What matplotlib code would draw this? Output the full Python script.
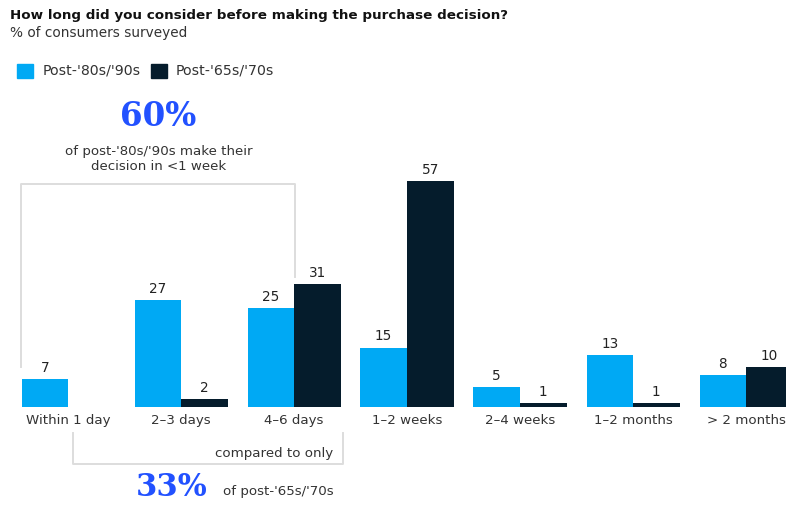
import matplotlib
matplotlib.use("Agg")
import matplotlib.pyplot as plt
from matplotlib.lines import Line2D
from matplotlib.patches import Rectangle
import numpy as np

# --- data -----------------------------------------------------------------
categories = ["Within 1 day", "2\u20133 days", "4\u20136 days", "1\u20132 weeks",
              "2\u20134 weeks", "1\u20132 months", "> 2 months"]
post_80s_90s = [7, 27, 25, 15, 5, 13, 8]
post_65s_70s = [0, 2, 31, 57, 1, 1, 10]
series_names = ["Post-'80s/'90s", "Post-'65s/'70s"]

title = "How long did you consider before making the purchase decision?"
subtitle = "% of consumers surveyed"
callout_top_value = "60%"
callout_top_text = "of post-'80s/'90s make their\ndecision in <1 week"
callout_bottom_lead = "compared to only"
callout_bottom_value = "33%"
callout_bottom_text = "of post-'65s/'70s"

# --- style ----------------------------------------------------------------
LIGHT = "#00A9F4"
DARK = "#051C2C"
ACCENT = "#2251FF"
TEXT = "#333333"
RULE = "#DDDDDD"
plt.rcParams["font.family"] = ["DejaVu Sans"]
SERIF = ["DejaVu Serif"]

W, H = 786, 505
fig = plt.figure(figsize=(W / 100, H / 100), dpi=100)


def fx(px):
    return px / W


def fy(py):
    return 1 - py / H


# axes spans the whole canvas; limits place the baseline and group spacing
ax = fig.add_axes([0, 0, 1, 1])
unit_px = 113.0           # distance between category groups
val_px = 226.0 / 57       # pixels per percentage point
base_px = 407.0
x0_px = 68.0
ax.set_xlim(-x0_px / unit_px, (W - x0_px) / unit_px)
ax.set_ylim(-(H - base_px) / val_px, base_px / val_px)
ax.axis("off")

x = np.arange(len(categories))
bw = 46.5 / unit_px
b1 = ax.bar(x - bw / 2, post_80s_90s, bw, color=LIGHT, linewidth=0)
b2 = ax.bar(x + bw / 2, post_65s_70s, bw, color=DARK, linewidth=0)

for bars, vals in ((b1, post_80s_90s), (b2, post_65s_70s)):
    for rect, v in zip(bars, vals):
        if v == 0:
            continue
        ax.annotate(f"{v}", (rect.get_x() + rect.get_width() / 2, v),
                    xytext=(0, 3), textcoords="offset points",
                    ha="center", va="bottom", fontsize=9.8, color="#222222")

for xi, lab in zip(x, categories):
    ax.annotate(lab, (xi, 0), xytext=(0, -10), textcoords="offset points",
                ha="center", va="center", fontsize=9.6, color=TEXT)

# --- header ---------------------------------------------------------------
fig.text(fx(10), fy(15), title, fontsize=9.7, fontweight="bold",
         color="#111111", va="center", ha="left")
fig.text(fx(10), fy(33), subtitle, fontsize=9.8, color=TEXT,
         va="center", ha="left")

# legend
for sx, col, name, tx in ((17, LIGHT, series_names[0], 43),
                          (151, DARK, series_names[1], 176)):
    fig.patches.append(Rectangle((fx(sx), fy(78)), fx(16), 14 / H,
                                 transform=fig.transFigure, color=col))
    fig.text(fx(tx), fy(71), name, fontsize=10.2, color=TEXT,
             va="center", ha="left")

# --- top callout ----------------------------------------------------------
fig.text(fx(158), fy(117), callout_top_value, fontsize=23.5, fontweight="bold",
         family=SERIF, color=ACCENT, ha="center", va="center")
fig.text(fx(159), fy(159), callout_top_text, fontsize=9.6, color=TEXT,
         ha="center", va="center", linespacing=1.2)


def bracket(points):
    xs = [fx(p[0]) for p in points]
    ys = [fy(p[1]) for p in points]
    fig.add_artist(Line2D(xs, ys, color=RULE, linewidth=1.4,
                          transform=fig.transFigure))


bracket([(21, 367), (21, 184), (295, 184), (295, 277)])

# --- bottom callout -------------------------------------------------------
bracket([(73, 433), (73, 464), (343, 464), (343, 433)])
fig.text(fx(333), fy(454), callout_bottom_lead, fontsize=9.6, color=TEXT,
         ha="right", va="center")
fig.text(fx(172), fy(488), callout_bottom_value, fontsize=22,
         fontweight="bold", family=SERIF, color=ACCENT,
         ha="center", va="center")
fig.text(fx(223), fy(491), callout_bottom_text, fontsize=9.6, color=TEXT,
         ha="left", va="center")

fig.savefig("out.png", dpi=100, facecolor="white")
